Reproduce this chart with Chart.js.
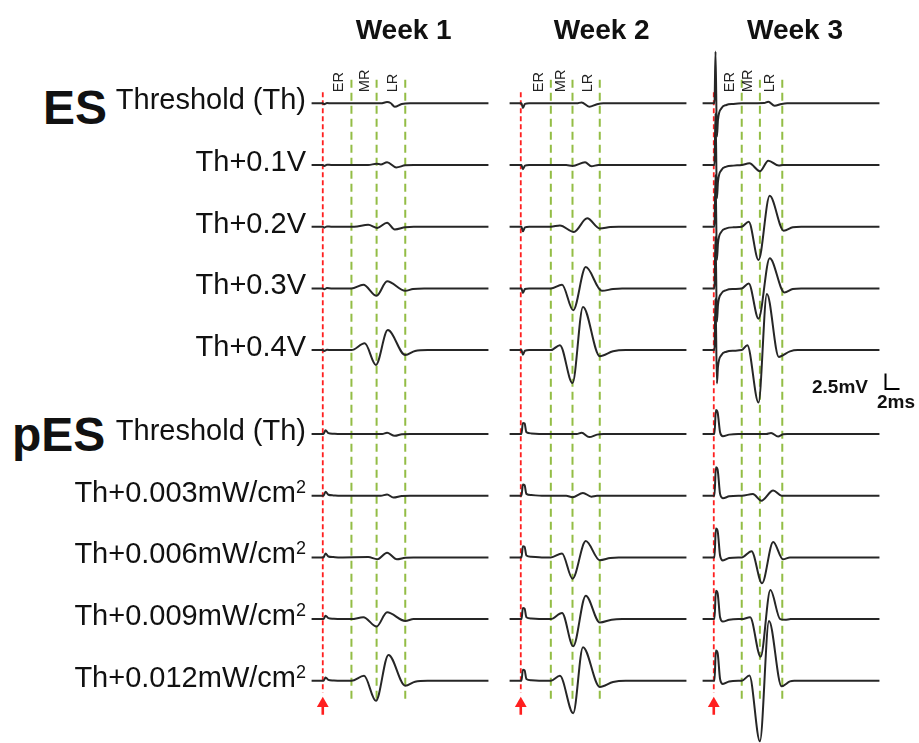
<!DOCTYPE html>
<html>
<head>
<meta charset="utf-8">
<script src="https://cdn.jsdelivr.net/npm/chart.js@4.4.0/dist/chart.umd.min.js"></script>
<style>
  body { margin: 0; width: 919px; height: 743px; background: #fff; position: relative; overflow: hidden;
         font-family: "Liberation Sans", Arial, sans-serif; }
  canvas { position: absolute; }
  .t { position: absolute; white-space: nowrap; color: #111; }
</style>
</head>
<body>
<canvas id="w0"></canvas><canvas id="w1"></canvas><canvas id="w2"></canvas>
<script>
// evoked responses: [time after stimulus (ms), amplitude (mV)]
var weeks = ["Week 1", "Week 2", "Week 3"];
var esLabels = ["Threshold (Th)", "Th+0.1V", "Th+0.2V", "Th+0.3V", "Th+0.4V"];
var pesLabels = ["Threshold (Th)", "Th+0.003mW/cm²", "Th+0.006mW/cm²", "Th+0.009mW/cm²", "Th+0.012mW/cm²"];
var peakNames = ["ER", "MR", "LR"];
var peakMs = [[4.1, 7.7, 11.8], [4.3, 7.4, 11.3], [4.0, 6.6, 9.8]];
var scaleBarMv = 2.5, scaleBarMs = 2;

var wk1ES = [
  [[-1.6,0],[0,0],[0.2,-0.15],[0.6,0.05],[1.2,0],[8.3,0],[9.2,0.2],[9.7,0.05],[10.3,-0.55],[11.3,-0.1],[12.5,0],[23.7,0]],
  [[-1.6,0],[0,0],[0.2,-0.15],[0.6,0.05],[1.2,0],[6.5,0],[7.7,0.2],[8.3,0.1],[9.2,0.45],[10.5,-0.4],[11.8,-0.05],[13,0],[23.7,0]],
  [[-1.6,0],[0,0],[0.2,-0.15],[0.6,0.05],[1.2,0],[4.5,0],[6.5,0.3],[7.8,-0.2],[9.2,0.65],[10.3,-0.45],[11.8,-0.1],[13,0],[23.7,0]],
  [[-1.6,0],[0,0],[0.2,-0.15],[0.6,0.05],[1.2,0],[4.1,0],[5.8,0.6],[7.7,-1.2],[9.2,1.15],[11.8,-0.4],[12.9,-0.1],[14.5,0],[23.7,0]],
  [[-1.6,0],[0,0],[0.2,-0.15],[0.6,0.05],[1.2,0],[4.1,0],[6.0,1.1],[7.6,-2.4],[9.3,3.25],[11.8,-0.8],[13.2,-0.15],[15,0],[23.7,0]]
];
var wk1pES = [
  [[-1.6,0],[0.1,0],[0.4,0.6],[0.8,0.15],[1.5,0.05],[2.5,0],[8.5,0],[9.2,0.2],[10.3,-0.3],[11.3,-0.05],[12.5,0],[23.7,0]],
  [[-1.6,0],[0.1,0],[0.4,0.65],[0.8,0.15],[1.5,0.05],[2.5,0],[8.3,0],[9.2,0.2],[10.1,-0.3],[11.3,-0.05],[12.5,0],[23.7,0]],
  [[-1.6,0],[0.1,0],[0.4,0.65],[0.8,0.15],[1.5,0.05],[2.5,0],[6.5,0.05],[7.8,-0.3],[9.2,0.75],[10.6,-0.3],[11.8,-0.05],[13,0],[23.7,0]],
  [[-1.6,0],[0.1,0],[0.4,0.55],[0.8,0.15],[1.5,0.05],[2.5,0],[4.1,0],[5.8,0.3],[7.7,-1.2],[9.2,1.1],[11.8,-0.3],[13,0],[23.7,0]],
  [[-1.6,0],[0.1,0],[0.4,0.55],[0.8,0.15],[1.5,0.05],[2.5,0],[4.1,0],[5.9,0.8],[7.6,-3.25],[9.4,4.2],[11.8,-0.8],[13.2,-0.15],[15,0],[23.7,0]]
];
var wk2ES = [
  [[-1.6,0],[0.1,0],[0.3,-0.75],[0.6,-0.1],[1.2,0],[8,0],[8.7,0.15],[9.8,-0.55],[10.9,-0.15],[11.8,0],[23.7,0]],
  [[-1.6,0],[0.1,0],[0.3,-0.7],[0.6,-0.1],[1.2,0],[6.5,0],[7.4,-0.15],[9.2,0.45],[10.1,-0.2],[11.1,0],[23.7,0]],
  [[-1.6,0],[0.1,0],[0.3,-0.75],[0.6,-0.1],[1.2,0],[4.3,0],[5.6,0.2],[7.6,-0.85],[9.5,1.35],[11.3,-0.3],[12.8,-0.05],[14,0],[23.7,0]],
  [[-1.6,0],[0.1,0],[0.3,-0.75],[0.6,-0.1],[1.2,0],[4.3,0],[5.9,0.6],[7.5,-3.55],[9.3,3.45],[11.6,-0.4],[13.2,-0.1],[14.5,0],[23.7,0]],
  [[-1.6,0],[0.1,0],[0.3,-0.75],[0.6,-0.1],[1.2,0],[4.3,0],[5.6,0.8],[7.4,-5.35],[8.9,7.0],[11.3,-1.0],[13.2,-0.2],[15,0],[23.7,0]]
];
var wk2pES = [
  [[-1.6,0],[0.1,0],[0.3,1.8],[0.55,1.7],[0.8,0.3],[1.5,0.1],[3,0],[8,0],[8.7,0.2],[9.8,-0.5],[10.9,-0.1],[11.8,0],[23.7,0]],
  [[-1.6,0],[0.1,0],[0.3,1.8],[0.55,1.7],[0.8,0.3],[1.5,0.1],[3,0],[6.5,0],[7.4,-0.25],[8.9,0.45],[10.1,-0.15],[10.9,0],[23.7,0]],
  [[-1.6,0],[0.1,0],[0.3,1.8],[0.55,1.7],[0.8,0.3],[1.5,0.1],[3,0],[4.3,0],[5.9,0.65],[7.4,-3.45],[9.3,2.65],[11.3,-0.45],[12.8,-0.1],[14,0],[23.7,0]],
  [[-1.6,0],[0.1,0],[0.3,1.8],[0.55,1.7],[0.8,0.3],[1.5,0.1],[3,0],[4.3,0],[5.9,1.0],[7.5,-4.4],[9.3,3.8],[11.3,-0.55],[13,-0.1],[14.5,0],[23.7,0]],
  [[-1.6,0],[0.1,0],[0.3,1.8],[0.55,1.7],[0.8,0.3],[1.5,0.1],[3,0],[4.3,0],[5.6,0.8],[7.5,-5.25],[8.9,5.45],[11.3,-1.0],[13.2,-0.2],[15,0],[23.7,0]]
];
var wk3ES = [
  [[-1.6,0],[0.1,0],[0.25,8.4],[0.45,-5.4],[0.6,-2.7],[1.1,-0.8],[1.8,-0.27],[2.8,-0.1],[4,0],[7.2,0.05],[7.8,0.27],[8.7,-0.4],[9.7,-0.1],[10.5,0],[23.7,0]],
  [[-1.6,0],[0.1,0],[0.25,8.4],[0.45,-5.4],[0.6,-2.7],[1.1,-0.8],[1.8,-0.27],[2.8,-0.1],[4,0],[5.1,0.27],[6.6,-1.0],[7.8,0.7],[9.3,-0.1],[9.9,0],[23.7,0]],
  [[-1.6,0],[0.1,0],[0.25,8.4],[0.45,-5.4],[0.6,-2.7],[1.1,-0.8],[1.8,-0.27],[2.8,-0.1],[4,0],[5.0,0.8],[6.4,-5.4],[8.0,5.0],[10.0,-0.65],[11.3,-0.1],[12.5,0],[23.7,0]],
  [[-1.6,0],[0.1,0],[0.25,8.4],[0.45,-5.4],[0.6,-2.7],[1.1,-0.8],[1.8,-0.27],[2.8,-0.1],[4,0],[5.0,0.8],[6.4,-4.9],[8.0,4.9],[10.1,-0.65],[11.3,-0.1],[12.5,0],[23.7,0]],
  [[-1.6,0],[0.1,0],[0.25,8.4],[0.45,-5.4],[0.6,-2.7],[1.1,-0.8],[1.8,-0.27],[2.8,-0.1],[4,0],[4.8,0.8],[6.4,-8.5],[7.6,9.1],[9.3,-1.1],[10.9,-0.2],[12,0],[23.7,0]]
];
var wk3pES = [
  [[-1.6,0],[0.1,0],[0.3,3.9],[0.55,3.5],[0.9,0.3],[1.3,-0.35],[2.2,-0.1],[3.5,0],[7.5,0],[8.2,0.15],[9.2,-0.4],[9.9,-0.05],[10.5,0],[23.7,0]],
  [[-1.6,0],[0.1,0],[0.3,4.6],[0.55,4.2],[0.9,0.3],[1.3,-0.4],[2.2,-0.1],[3.5,0],[4,0],[5.6,0.27],[6.8,-0.8],[8.5,0.85],[9.7,0],[23.7,0]],
  [[-1.6,0],[0.1,0],[0.3,4.7],[0.55,4.3],[0.9,0.3],[1.3,-0.5],[2.2,-0.1],[3.5,0],[4,0],[5.4,1.0],[6.9,-4.2],[8.5,2.5],[9.9,-0.3],[10.9,0],[23.7,0]],
  [[-1.6,0],[0.1,0],[0.3,4.6],[0.55,4.2],[0.9,0.3],[1.3,-0.4],[2.2,-0.1],[3.5,0],[4,0],[5.2,0.3],[6.7,-6.1],[8.1,4.7],[9.5,0],[10.2,-0.1],[11,0],[23.7,0]],
  [[-1.6,0],[0.1,0],[0.3,4.9],[0.55,4.5],[0.9,0.3],[1.3,-0.5],[2.2,-0.1],[3.5,0],[4,0],[5.1,0.86],[6.6,-9.8],[7.9,9.7],[9.7,-0.9],[10.9,-0.1],[11.5,0],[23.7,0]]
];

// ---- layout ----
var PX_PER_MS = 7, PX_PER_MV = 6.17;
var stimX = [322.7, 520.7, 714];
var X_MIN = -2.4, X_MAX = 27.5, Y_MAX = 10.26, Y_MIN = -103.68, TOP = 40;
var rowOffsets = [0, -10, -20, -30, -40, -53.6, -63.6, -73.6, -83.6, -93.6];
var RED = '#ff1f1f', GREEN = '#93bd45', INK = '#262626';

var peakText = {
  id: 'peakText',
  afterDraw: function (chart, args, opts) {
    var ctx = chart.ctx, x = chart.scales.x, y = chart.scales.y;
    ctx.save();
    ctx.font = '14.5px "Liberation Sans", Arial, sans-serif';
    ctx.fillStyle = '#222';
    ctx.textBaseline = 'middle';
    ctx.textAlign = 'left';
    opts.times.forEach(function (t, k) {
      ctx.save();
      ctx.translate(x.getPixelForValue(t) - 12, y.getPixelForValue(1.8));
      ctx.rotate(-Math.PI / 2);
      ctx.fillText(peakNames[k], 0, 0);
      ctx.restore();
    });
    ctx.restore();
  }
};

var allTraces = [[wk1ES, wk1pES], [wk2ES, wk2pES], [wk3ES, wk3pES]];
var charts = [];

allTraces.forEach(function (wk, w) {
  var cv = document.getElementById('w' + w);
  var cw = Math.round((X_MAX - X_MIN) * PX_PER_MS), ch = Math.round((Y_MAX - Y_MIN) * PX_PER_MV);
  cv.width = cw; cv.height = ch;
  cv.style.left = (stimX[w] + X_MIN * PX_PER_MS) + 'px';
  cv.style.top = TOP + 'px';

  var ds = [];
  wk[0].concat(wk[1]).forEach(function (tr, r) {
    ds.push({
      data: tr.map(function (p) { return { x: p[0], y: p[1] + rowOffsets[r] }; }),
      borderColor: INK, borderWidth: 2, pointRadius: 0,
      cubicInterpolationMode: 'monotone', order: 0
    });
  });
  ds.push({ data: [{ x: 0, y: 1.8 }, { x: 0, y: -95.5 }], borderColor: RED, borderWidth: 1.8,
            borderDash: [5, 3], pointRadius: 0, order: 1 });
  peakMs[w].forEach(function (t) {
    ds.push({ data: [{ x: t, y: 3.8 }, { x: t, y: -97 }], borderColor: GREEN, borderWidth: 2,
              borderDash: [8, 5], pointRadius: 0, order: 1 });
  });
  // stimulus arrow
  ds.push({ data: [{ x: 0, y: -97.8 }, { x: 0, y: -99.1 }], borderColor: RED, borderWidth: 2.6, pointRadius: 0, order: 1 });
  ds.push({ data: [{ x: 0, y: -97.3 }], showLine: false, pointStyle: 'triangle', pointRadius: 6.8,
            pointBackgroundColor: RED, pointBorderColor: RED, pointBorderWidth: 0, order: 1 });
  if (w === 2) {
    var bx = 24.57, by = -46.3;
    ds.push({ data: [{ x: bx, y: by + scaleBarMv }, { x: bx, y: by }, { x: bx + scaleBarMs, y: by }],
              borderColor: '#000', borderWidth: 2, pointRadius: 0, tension: 0, order: 0 });
  }

  charts.push(new Chart(cv.getContext('2d'), {
    type: 'line',
    data: { datasets: ds },
    options: {
      responsive: false, animation: false, events: [],
      layout: { padding: 0, autoPadding: false },
      scales: {
        x: { type: 'linear', min: X_MIN, max: X_MAX, display: false },
        y: { type: 'linear', min: Y_MIN, max: Y_MAX, display: false }
      },
      plugins: { legend: { display: false }, tooltip: { enabled: false }, peakText: { times: peakMs[w] } }
    },
    plugins: [peakText]
  }));
});

// ---- text ----
function place(html, x, base, size, bold, align) {
  var d = document.createElement('div');
  d.className = 't';
  d.style.fontSize = size + 'px';
  d.style.lineHeight = size + 'px';
  d.style.fontWeight = bold ? 'bold' : 'normal';
  d.innerHTML = html;
  d.style.top = (base - 0.8465 * size) + 'px';
  d.style.left = x + 'px';
  if (align === 'right') d.style.transform = 'translateX(-100%)';
  if (align === 'center') d.style.transform = 'translateX(-50%)';
  document.body.appendChild(d);
}

weeks.forEach(function (name, w) { place(name, stimX[w] + 81, 40, 28, true, 'center'); });

var yS = charts[0].scales.y;
esLabels.concat(pesLabels).forEach(function (lab, r) {
  var base = TOP + yS.getPixelForValue(rowOffsets[r]) + 6.5;
  var html = lab.replace('²', '<span style="font-size:18px;position:relative;top:-9px">2</span>');
  place(html, 306, base, 29, false, 'right');
});
place('ES', 43, 125, 48, true, 'left');
place('pES', 12, 452, 48, true, 'left');
place('2.5mV', 868, 393, 19, true, 'right');
place('2ms', 877, 408, 19, true, 'left');
</script>
</body>
</html>
